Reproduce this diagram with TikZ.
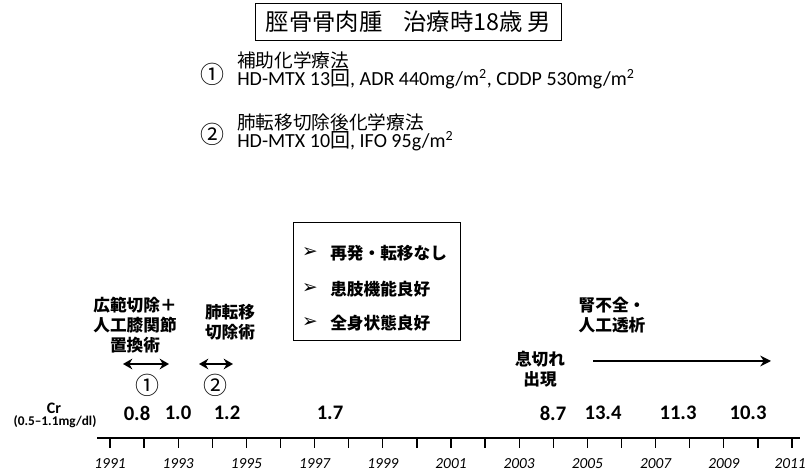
\documentclass[tikz,border=0pt]{standalone}
\usepackage{fontspec}
\setmainfont{Carlito}
\newfontfamily\jp{Noto Sans CJK JP}
\newfontfamily\dv{DejaVu Sans}
\usetikzlibrary{arrows.meta}
\begin{document}
\begin{tikzpicture}[x=0.75pt,y=-0.75pt,
  jpl/.style={font=\jp\bfseries\fontsize{12.5}{15}\selectfont, align=center, inner sep=0},
  head/.style={font=\jp\fontsize{14}{16}\selectfont, anchor=west, inner sep=0},
  drug/.style={font=\fontsize{15}{17}\selectfont, anchor=west, inner sep=0},
  circ/.style={font=\jp\fontsize{18}{20}\selectfont, inner sep=0},
  crv/.style={font=\bfseries\fontsize{15.5}{18}\selectfont, inner sep=0},
  yr/.style={font=\itshape\fontsize{11.5}{13}\selectfont, inner sep=0},
  boxt/.style={font=\jp\bfseries\fontsize{12.5}{15}\selectfont, anchor=west, inner sep=0},
  bul/.style={font=\dv\fontsize{14}{15}\selectfont, inner sep=0},
  dbl/.style={{Stealth[length=7pt,width=8pt]}-{Stealth[length=7pt,width=8pt]}, line width=1.6pt},
  tick/.style={line width=1pt}]
\useasboundingbox (0,0) rectangle (807,473);

% title
\node (title) [draw, line width=0.6pt, inner sep=0, minimum width=230pt, minimum height=27.75pt,
  font=\jp\fontsize{17.5}{19}\selectfont] at (408.5,21.5) {脛骨骨肉腫\hspace{0.9em}治療時18歳 男};

% items
\node (c1) [circ] at (212,74) {①};
\node (h1) [head] at (237,60) {補助化学療法};
\node (d1) [drug] at (237,79) {HD-MTX 13{\jp 回}, ADR 440mg/m\textsuperscript{2}, CDDP 530mg/m\textsuperscript{2}};
\node (c2) [circ] at (212,134) {②};
\node (h2) [head] at (237,122) {肺転移切除後化学療法};
\node (d2) [drug] at (237,141) {HD-MTX 10{\jp 回}, IFO 95g/m\textsuperscript{2}};

% middle box
\node (mbox) [draw, line width=0.6pt, inner sep=0, minimum width=125.25pt, minimum height=88.5pt] at (376.5,281) {};
\node (b1a) [bul] at (310,253) {➢};
\node (b1) [boxt] at (330,253) {再発・転移なし};
\node (b2a) [bul] at (310,289) {➢};
\node (b2) [boxt] at (330,289) {患肢機能良好};
\node (b3a) [bul] at (310,323) {➢};
\node (b3) [boxt] at (330,323) {全身状態良好};

% event labels
\node (op1) [jpl] at (135,325) {広範切除＋\\人工膝関節\\置換術};
\node (op2) [jpl] at (230,322) {肺転移\\切除術};
\coordinate (a1l) at (123,364);
\coordinate (a1r) at (169,364);
\draw[dbl] (a1l) -- (a1r);
\coordinate (a2l) at (199,364);
\coordinate (a2r) at (233,364);
\draw[dbl] (a2l) -- (a2r);
\node (e1) [circ] at (147,385) {①};
\node (e2) [circ] at (215,385) {②};

\node (dial) [jpl] at (612,315) {腎不全・\\人工透析};
\node (dysp) [jpl] at (540,369) {息切れ\\出現};
\coordinate (ra) at (593,361);
\coordinate (rb) at (771,361);
\draw[-{Stealth[length=8pt,width=8pt]}, line width=1.6pt] (ra) -- (rb);

% Cr
\node (cr) [font=\bfseries\fontsize{12}{14}\selectfont, inner sep=0] at (54,408) {Cr};
\node (crr) [font=\bfseries\fontsize{10}{11}\selectfont, inner sep=0] at (55,422) {(0.5--1.1mg/dl)};
\foreach \xx/\v [count=\i] in {137/0.8,178/1.0,227/1.2,330/1.7,553/8.7,603/13.4,678/11.3,748/10.3}
  \node (cv\i) [crv] at (\xx,413) {\v};

% axis
\coordinate (ax0) at (97,438);
\coordinate (ax1) at (800,438);
\draw[line width=1.1pt] (ax0) -- (ax1);
\foreach \i in {0,...,20} {
  \coordinate (t\i) at ({110+34.1*\i},438);
  \draw[tick] (t\i) -- ++(0,10);
}
\foreach \i in {0,2,...,18} {
  \pgfmathtruncatemacro{\yy}{1991+\i}
  \node (y\i) [yr] at ({110+34.1*\i},464) {\yy};
}
\node (y20) [yr, anchor=east] at (806,464) {2011};
\end{tikzpicture}
\end{document}
